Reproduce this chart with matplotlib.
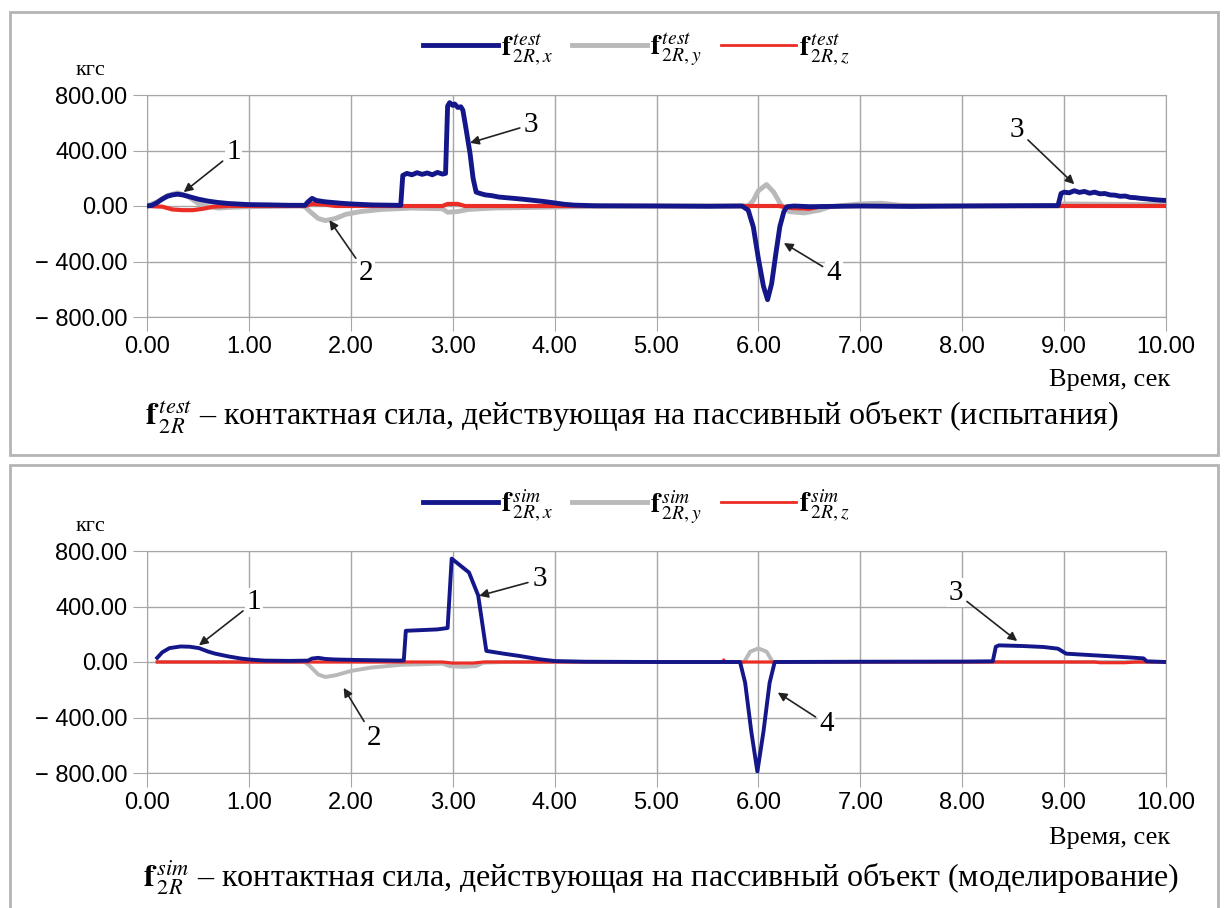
import numpy as np
import matplotlib.pyplot as plt
import matplotlib as mpl
from matplotlib.patches import Rectangle
from matplotlib.lines import Line2D

mpl.rcParams['mathtext.fontset'] = 'stix'
mpl.rcParams['font.family'] = 'Liberation Serif'

# --- test data (top panel), time in sec, force in kgf ---
t_test_x = [0.00, 0.05, 0.10, 0.15, 0.20, 0.25, 0.30, 0.35, 0.40, 0.50, 0.60, 0.70, 0.80, 0.90,
            1.00, 1.20, 1.40, 1.55, 1.58, 1.62, 1.66, 1.75, 1.90, 2.00, 2.20, 2.45, 2.49, 2.51,
            2.55, 2.60, 2.65, 2.70, 2.75, 2.80, 2.85, 2.90, 2.93, 2.95, 2.97, 3.00, 3.02, 3.05,
            3.08, 3.10, 3.13, 3.17, 3.20, 3.23, 3.27, 3.32, 3.38, 3.45, 3.52, 3.60, 3.70, 3.80,
            3.90, 4.00, 4.10, 4.20, 4.40, 5.00, 5.50, 5.84, 5.90, 5.95, 6.00, 6.05, 6.09, 6.13,
            6.17, 6.21, 6.25, 6.28, 6.35, 6.50, 7.00, 7.50, 8.00, 8.50, 8.94, 8.97, 9.00, 9.05,
            9.10, 9.15, 9.20, 9.25, 9.30, 9.35, 9.40, 9.45, 9.50, 9.55, 9.60, 9.65, 9.70, 9.75,
            9.80, 9.85, 9.90, 9.95, 10.00]
f_test_x = [0, 5, 25, 50, 70, 80, 85, 80, 70, 50, 35, 25, 18, 14,
            10, 8, 5, 5, 30, 55, 40, 30, 20, 15, 8, 5, 5, 220,
            235, 225, 240, 228, 238, 225, 242, 230, 235, 720, 745, 725, 735, 710,
            715, 690, 560, 380, 200, 100, 90, 80, 75, 65, 60, 55, 48, 40,
            32, 22, 12, 6, 2, 0, -2, 0, -30, -150, -380, -580, -675, -560,
            -350, -150, -40, -5, 0, -5, 0, -3, 0, 2, 3, 90, 100, 95,
            110, 98, 105, 92, 100, 88, 90, 80, 78, 70, 72, 62, 60, 55,
            52, 48, 45, 42, 40]

t_test_y = [0.00, 0.10, 0.20, 0.30, 0.40, 0.50, 0.60, 0.70, 0.80, 1.00, 1.50, 1.55, 1.60, 1.68,
            1.75, 1.85, 1.95, 2.10, 2.30, 2.60, 2.90, 2.95, 3.05, 3.15, 3.40, 3.80, 4.20, 5.00,
            5.90, 5.95, 6.00, 6.08, 6.15, 6.22, 6.30, 6.45, 6.60, 6.70, 7.00, 7.20, 7.40, 8.00,
            8.95, 9.00, 9.50, 10.00]
f_test_y = [0, 30, 75, 95, 70, 20, -5, -15, -10, -5, 0, -5, -40, -90,
            -105, -90, -60, -40, -25, -15, -20, -45, -40, -25, -15, -10, -5, 0,
            0, 40, 110, 155, 100, 10, -40, -50, -30, -5, 15, 20, 5, 0,
            0, 15, 12, 10]

t_test_z = [0.00, 0.15, 0.25, 0.35, 0.45, 0.55, 0.65, 0.80, 1.55, 1.62, 1.75, 1.85, 2.90, 2.95,
            3.05, 3.12, 5.92, 6.20, 6.33, 6.50, 6.60, 6.80, 10.00]
f_test_z = [0, -5, -25, -30, -30, -20, -5, 0, 0, 15, 10, 0, 0, 15,
            15, 0, 0, 0, -15, -20, -5, 0, 0]

# --- simulation data (bottom panel) ---
t_sim_x = [0.10, 0.15, 0.22, 0.33, 0.42, 0.51, 0.60, 0.67, 0.80, 0.93, 1.05, 1.16, 1.40, 1.58,
           1.62, 1.68, 1.75, 1.85, 2.10, 2.48, 2.52, 2.54, 2.70, 2.85, 2.95, 2.99, 3.16, 3.25,
           3.33, 3.50, 3.66, 3.85, 4.00, 4.30, 5.00, 5.82, 5.87, 5.93, 5.99, 6.05, 6.11, 6.16,
           7.00, 8.00, 8.30, 8.33, 8.36, 8.60, 8.80, 8.94, 9.02, 9.30, 9.60, 9.78, 9.81, 10.00]
f_sim_x = [30, 70, 100, 112, 110, 100, 75, 60, 40, 24, 15, 10, 8, 10,
           25, 30, 22, 18, 14, 10, 12, 225, 230, 235, 245, 745, 645, 480,
           80, 60, 43, 20, 7, 2, 0, 0, -150, -500, -790, -500, -150, 0,
           2, 3, 5, 110, 120, 115, 108, 96, 60, 48, 35, 26, 5, 0]

t_sim_y = [0.10, 1.55, 1.60, 1.68, 1.75, 1.85, 2.00, 2.20, 2.50, 2.90, 2.97, 3.10, 3.23, 3.30,
           3.50, 5.86, 5.92, 6.00, 6.08, 6.14, 8.30, 9.80, 10.00]
f_sim_y = [0, 0, -30, -90, -108, -96, -65, -40, -20, -12, -30, -35, -30, -5,
           0, 0, 75, 98, 75, 0, 0, 0, 0]

t_sim_z = [0.10, 2.90, 3.00, 3.20, 3.30, 5.65, 5.66, 5.67, 9.30, 9.35, 9.60, 9.70, 10.00]
f_sim_z = [0, 0, -8, -8, 0, 0, 15, 0, 0, -5, -5, 0, 0]

# numbered callouts: (label, text t, text f, arrow tip t, arrow tip f)
notes_test = [('1', 0.85, 386, 0.36, 100), ('2', 2.15, -483, 1.79, -102),
              ('3', 3.77, 587, 3.17, 455), ('4', 6.74, -485, 6.25, -267),
              ('3', 8.54, 550, 9.10, 157)]
notes_sim = [('1', 1.05, 430, 0.51, 120), ('2', 2.23, -549, 1.93, -186),
             ('3', 3.85, 595, 3.26, 477), ('4', 6.67, -448, 6.19, -220),
             ('3', 7.94, 498, 8.54, 151)]

y_ticks = [-800, -400, 0, 400, 800]

BLUE = '#14178a'
GRAY = '#b9b9b9'
RED = '#ec2d26'
GRID = '#a6a6a6'

fig = plt.figure(figsize=(12.26, 9.08), dpi=100)

# panel frames
for y0, h in [(12, 443), (465, 450)]:
    fig.patches.append(Rectangle((10 / 1226, 1 - (y0 + h) / 908), 1208 / 1226, h / 908,
                                 transform=fig.transFigure, fill=False,
                                 edgecolor='#b4b4b4', linewidth=2.0))


def fmt_y(v):
    # wide minus sign, as in the source spreadsheet
    return ('\u2212 ' if v < 0 else '') + f'{abs(v):.2f}'


def draw_panel(rect, series, notes, tag, lw_main):
    ax = fig.add_axes(rect)
    (tx, fx), (ty, fy), (tz, fz) = series
    ax.plot(ty, fy, color=GRAY, lw=lw_main, zorder=3, solid_capstyle='round')
    ax.plot(tz, fz, color=RED, lw=lw_main - 0.5, zorder=4)
    ax.plot(tx, fx, color=BLUE, lw=lw_main, zorder=5)
    ax.set_xlim(0, 10)
    ax.set_ylim(-800, 800)
    ax.set_xticks(np.arange(0, 11, 1))
    ax.set_yticks(y_ticks)
    ax.set_xticklabels([f'{v:.2f}' for v in np.arange(0, 11, 1)])
    ax.set_yticklabels([fmt_y(v) for v in y_ticks])
    ax.grid(True, color=GRID, lw=1.0)
    for s in ax.spines.values():
        s.set_color(GRID)
    ax.tick_params(direction='out', length=10, color=GRID, labelsize=17, pad=4)
    for lab in ax.get_xticklabels() + ax.get_yticklabels():
        lab.set_fontfamily('Liberation Sans')
    ax.text(-0.055, 1.11, 'кгс', transform=ax.transAxes, ha='center', va='center', fontsize=16)
    for num, xt, yt, xa, ya in notes:
        ax.annotate(num, xy=(xa, ya), xytext=(xt, yt), fontsize=21, ha='center', va='center',
                    zorder=6,
                    bbox=dict(boxstyle='square,pad=0.05', fc='white', ec='none'),
                    arrowprops=dict(arrowstyle='-|>', color='#222222', lw=1.2,
                                    mutation_scale=13, shrinkA=2, shrinkB=0))
    handles = [Line2D([], [], color=BLUE, lw=3.5), Line2D([], [], color=GRAY, lw=3.5),
               Line2D([], [], color=RED, lw=2)]
    labels = [r'$\mathbf{f}^{\,%s}_{\,2R,%s}$' % (tag, c) for c in 'xyz']
    ax.legend(handles, labels, loc='center', bbox_to_anchor=(0.48, 1.20), ncol=3,
              frameon=False, fontsize=20, handlelength=2.7, handletextpad=0.1,
              columnspacing=0.7)
    return ax


ax1 = draw_panel([147 / 1226, 1 - 317 / 908, 1019 / 1226, 222 / 908],
                 [(t_test_x, f_test_x), (t_test_y, f_test_y), (t_test_z, f_test_z)],
                 notes_test, 'test', 3.5)
ax2 = draw_panel([147 / 1226, 1 - 773 / 908, 1019 / 1226, 222 / 908],
                 [(t_sim_x, f_sim_x), (t_sim_y, f_sim_y), (t_sim_z, f_sim_z)],
                 notes_sim, 'sim', 2.8)

fig.text(1170 / 1226, 1 - 380 / 908, 'Время, сек', ha='right', va='center', fontsize=19)
fig.text(1170 / 1226, 1 - 838 / 908, 'Время, сек', ha='right', va='center', fontsize=19)
fig.text(145 / 1226, 1 - 418 / 908,
         r'$\mathbf{f}^{\,test}_{\,2R}$ – контактная сила, действующая на пассивный объект (испытания)',
         ha='left', va='center', fontsize=23)
fig.text(143 / 1226, 1 - 878 / 908,
         r'$\mathbf{f}^{\,sim}_{\,2R}$ – контактная сила, действующая на пассивный объект (моделирование)',
         ha='left', va='center', fontsize=23)

fig.savefig('out.png', dpi=100)
